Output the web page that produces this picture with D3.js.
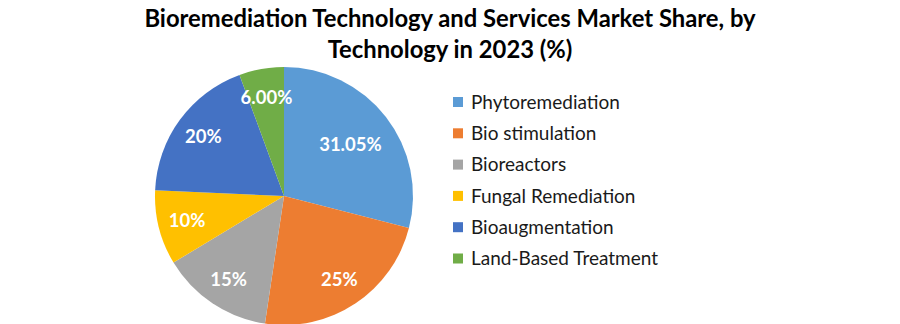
<!DOCTYPE html>
<html>
<head>
<meta charset="utf-8">
<script src="https://cdn.jsdelivr.net/npm/d3@7"></script>
<style>
  html, body { margin: 0; padding: 0; background: #fff; }
  svg { display: block; }
</style>
</head>
<body>
<svg id="chart" width="900" height="324"></svg>
<script>
// Market share by technology, 2023 (%)
const categories = ["Phytoremediation", "Bio stimulation", "Bioreactors", "Fungal Remediation", "Bioaugmentation", "Land-Based Treatment"];
const shares = [31.05, 25, 15, 10, 20, 6];
const shareLabels = ["31.05%", "25%", "15%", "10%", "20%", "6.00%"];
const colors = ["#5B9BD5", "#ED7D31", "#A5A5A5", "#FFC000", "#4472C4", "#70AD47"];
const titleLines = ["Bioremediation Technology and Services Market Share, by", "Technology in 2023 (%)"];

const svg = d3.select("#chart");
const font = "Lato, 'Open Sans', sans-serif";

// Title
svg.append("g").selectAll("text")
  .data(titleLines)
  .join("text")
  .attr("x", 450)
  .attr("y", (d, i) => 27 + i * 31)
  .attr("text-anchor", "middle")
  .attr("font-family", font)
  .attr("font-weight", 700)
  .attr("font-size", 23.8)
  .attr("fill", "#000")
  .text(d => d);

// Pie
const cx = 284, cy = 196, R = 129;
const pie = d3.pie().sort(null).value(d => d);
const arcs = pie(shares);
const arc = d3.arc().innerRadius(0).outerRadius(R);
const labelArc = d3.arc().innerRadius(100).outerRadius(100);
const innerLabelArc = d3.arc().innerRadius(84).outerRadius(84);

const g = svg.append("g").attr("transform", `translate(${cx},${cy})`);
g.selectAll("path")
  .data(arcs)
  .join("path")
  .attr("d", arc)
  .attr("fill", (d, i) => colors[i]);

g.selectAll("text")
  .data(arcs)
  .join("text")
  .attr("transform", (d, i) => {
    const [x, y] = (i === 0 ? innerLabelArc : labelArc).centroid(d);
    return `translate(${x},${y})`;
  })
  .attr("text-anchor", "middle")
  .attr("dy", "0.35em")
  .attr("font-family", font)
  .attr("font-weight", 700)
  .attr("font-size", 18.5)
  .attr("fill", "#fff")
  .text((d, i) => shareLabels[i]);

// Legend
const legend = svg.append("g").attr("transform", "translate(453,102)");
const rows = legend.selectAll("g")
  .data(categories)
  .join("g")
  .attr("transform", (d, i) => `translate(0,${i * 31.3})`);
rows.append("rect")
  .attr("x", 0).attr("y", -5)
  .attr("width", 10).attr("height", 10)
  .attr("fill", (d, i) => colors[i]);
rows.append("text")
  .attr("x", 18)
  .attr("dy", "0.35em")
  .attr("font-family", font)
  .attr("font-size", 19)
  .attr("fill", "#1a1a1a")
  .text(d => d);
</script>
</body>
</html>
